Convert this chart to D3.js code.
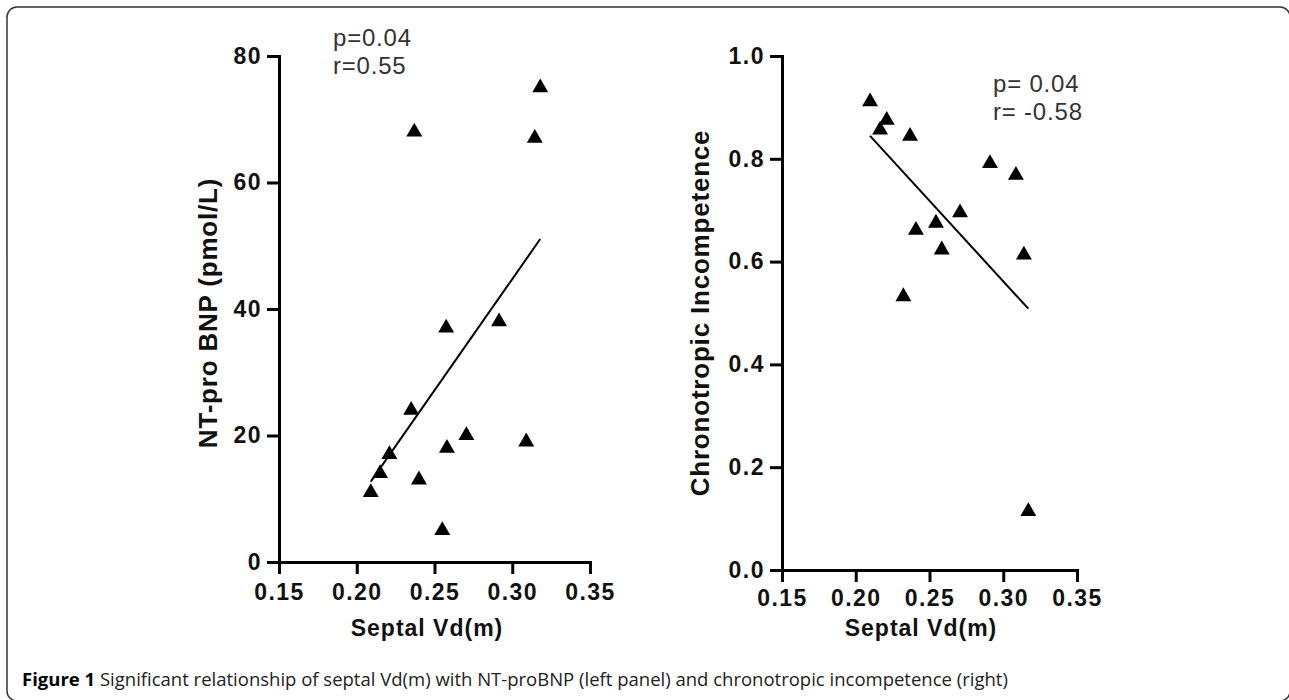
<!DOCTYPE html>
<html><head><meta charset="utf-8">
<script src="https://cdn.jsdelivr.net/npm/d3@7"></script>
<style>body{margin:0;background:#fff}</style>
</head><body>
<svg id="chart" width="1289" height="700"></svg>
<script>
// ---- data ----
const leftSeptal = [0.237, 0.318, 0.3145, 0.2575, 0.2915, 0.235, 0.2705, 0.309, 0.258, 0.221, 0.215, 0.240, 0.209, 0.255];
const leftBNP    = [68,    75,    67,     37,     38,     24,    20,     19,    18,    17,    14,    13,    11,    5];
const rightSeptal = [0.2097, 0.221, 0.2165, 0.2368, 0.291, 0.3086, 0.2707, 0.2544, 0.2408, 0.2583, 0.314, 0.2323, 0.317];
const rightCI     = [0.911,  0.875, 0.856,  0.844,  0.791, 0.768,  0.695,  0.675,  0.661,  0.623,  0.613, 0.532,  0.114];
const xTicks = [0.15, 0.20, 0.25, 0.30, 0.35];
const leftYTicks = [0, 20, 40, 60, 80];
const rightYTicks = [0.0, 0.2, 0.4, 0.6, 0.8, 1.0];
const leftStats = ["p=0.04", "r=0.55"];
const rightStats = ["p= 0.04", "r= -0.58"];
const xTitle = "Septal Vd(m)";
const leftYTitle = "NT-pro BNP (pmol/L)";
const rightYTitle = "Chronotropic Incompetence";
const captionLabel = "Figure 1";
const captionText = "Significant relationship of septal Vd(m) with NT-proBNP (left panel) and chronotropic incompetence (right)";

const svg = d3.select("#chart");

// frame
svg.append("rect").attr("x", 7).attr("y", 7).attr("width", 1283).attr("height", 694)
  .attr("rx", 10).attr("fill", "none").attr("stroke", "#333").attr("stroke-width", 1.5);

function fit(xs, ys) {
  const mx = d3.mean(xs), my = d3.mean(ys);
  let sxy = 0, sxx = 0;
  xs.forEach((x, i) => { sxy += (x - mx) * (ys[i] - my); sxx += (x - mx) * (x - mx); });
  const b = sxy / sxx, a = my - b * mx;
  return x => a + b * x;
}

function panel(cfg) {
  const g = svg.append("g");
  const x = d3.scaleLinear().domain([0.15, 0.35]).range(cfg.xr);
  const y = d3.scaleLinear().domain(cfg.yd).range(cfg.yr);
  const fontTick = "bold 23px 'Liberation Sans', Arial, sans-serif";

  const xa = g.append("g").attr("transform", `translate(0,${cfg.yr[0]})`)
    .call(d3.axisBottom(x).tickValues(xTicks).tickFormat(d3.format(".2f")).tickSize(12).tickSizeOuter(0).tickPadding(cfg.xpad));
  const ya = g.append("g").attr("transform", `translate(${cfg.xr[0]},0)`)
    .call(d3.axisLeft(y).tickValues(cfg.yticks).tickFormat(cfg.yfmt).tickSize(12).tickSizeOuter(0).tickPadding(5));
  [xa, ya].forEach(a => {
    a.attr("font-family", null).attr("font-size", null);
    a.select(".domain").attr("stroke", "#000").attr("stroke-width", 3).attr("stroke-linecap", "square");
    a.selectAll(".tick line").attr("stroke", "#000").attr("stroke-width", 3);
    a.selectAll(".tick text").style("font", fontTick).style("letter-spacing", "1.5px").attr("fill", "#111");
  });

  // regression line
  const f = fit(cfg.xs, cfg.ys);
  const ext = d3.extent(cfg.xs);
  g.append("path").datum(ext)
    .attr("d", d3.line().x(d => x(d)).y(d => y(f(d))))
    .attr("stroke", "#000").attr("stroke-width", 2).attr("fill", "none");

  // points
  g.selectAll("path.pt").data(cfg.xs.map((d, i) => [d, cfg.ys[i]])).join("path")
    .attr("class", "pt")
    .attr("d", d3.symbol(d3.symbolTriangle, 110))
    .attr("transform", d => `translate(${x(d[0])},${y(d[1])})`)
    .attr("fill", "#000");

  // titles
  g.append("text").attr("x", cfg.xtx).attr("y", 636).attr("text-anchor", "middle")
    .style("font", "bold 23px 'Liberation Sans', Arial, sans-serif").style("letter-spacing", "1px")
    .attr("fill", "#111").text(xTitle);
  g.append("text").attr("transform", `translate(${cfg.ytx},${cfg.yty}) rotate(-90)`).attr("text-anchor", "middle")
    .style("font", "bold 26px 'Liberation Sans', Arial, sans-serif").style("letter-spacing", "0.8px")
    .attr("fill", "#111").text(cfg.ytitle);

  // stats
  cfg.stats.forEach((s, i) => {
    g.append("text").attr("x", cfg.sx).attr("y", cfg.sy + i * 28)
      .style("font", "24px 'Liberation Sans', Arial, sans-serif").style("letter-spacing", "0.8px")
      .attr("fill", "#333").text(s);
  });
}

panel({xr: [279, 590], yr: [562, 56], yd: [0, 80], yticks: leftYTicks, yfmt: d3.format("d"),
  xs: leftSeptal, ys: leftBNP, xpad: 10, xtx: 427, ytx: 217, yty: 313, ytitle: leftYTitle,
  stats: leftStats, sx: 333, sy: 46});
panel({xr: [782, 1077], yr: [570, 56], yd: [0, 1], yticks: rightYTicks, yfmt: d3.format(".1f"),
  xs: rightSeptal, ys: rightCI, xpad: 8, xtx: 921, ytx: 709, yty: 313, ytitle: rightYTitle,
  stats: rightStats, sx: 993, sy: 92});

// caption
const cap = svg.append("text").attr("x", 22).attr("y", 686)
  .style("font", "18.5px 'Open Sans', sans-serif").attr("fill", "#222");
cap.append("tspan").style("font-weight", "bold").attr("fill", "#000").text(captionLabel);
cap.append("tspan").text(" " + captionText);
</script>
</body></html>
